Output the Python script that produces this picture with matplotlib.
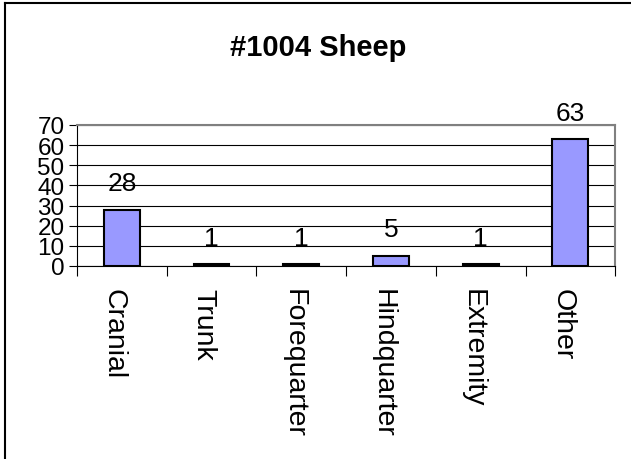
import matplotlib
matplotlib.use('Agg')
import matplotlib.pyplot as plt
import matplotlib.transforms as mtransforms
from matplotlib.lines import Line2D

plt.rcParams['font.family'] = ['Liberation Sans', 'DejaVu Sans']

# data
categories = ['Cranial', 'Trunk', 'Forequarter', 'Hindquarter', 'Extremity', 'Other']
counts = [28, 1, 1, 5, 1, 63]
title = '#1004 Sheep'

fig = plt.figure(figsize=(6.31, 4.60), dpi=100)
ax = fig.add_axes([0.122, 0.4196, 0.853, 0.3065])

x = range(len(categories))
ax.bar(x, counts, width=0.4, color='#9999FF', edgecolor='black', linewidth=1.5, zorder=3)

ax.set_xlim(-0.5, len(categories) - 0.5)
ax.set_ylim(0, 70)
ax.set_yticks(range(0, 71, 10))
ax.yaxis.grid(True, color='black', linewidth=0.8, zorder=0)
ax.tick_params(axis='y', labelsize=17.5, direction='out', length=6, width=0.8, pad=3)

# category ticks sit between the bars, labels under the bars
ax.set_xticks(x)
ax.set_xticks([i + 0.5 for i in range(-1, len(categories))], minor=True)
ax.tick_params(axis='x', which='major', length=0, pad=16)
ax.tick_params(axis='x', which='minor', length=7, width=0.8, direction='out')
ax.set_xticklabels(categories, rotation=-90, fontsize=20.5, ha='center', va='top')
shift = mtransforms.ScaledTranslation(-8 / 100, 0, fig.dpi_scale_trans)
for lbl in ax.get_xticklabels():
    lbl.set_transform(lbl.get_transform() + shift)

for sp in ['top', 'right']:
    ax.spines[sp].set_color('#808080')
    ax.spines[sp].set_linewidth(1.5)
for sp in ['left', 'bottom']:
    ax.spines[sp].set_color('black')
    ax.spines[sp].set_linewidth(0.8)

for xi, v in zip(x, counts):
    ax.annotate(str(v), (xi, v), xytext=(0, 14), textcoords='offset points',
                ha='center', va='baseline', fontsize=19)

fig.text(0.504, 0.895, title, ha='center', va='center', fontsize=21, fontweight='bold')

# chart frame: only left and top edges are visible in the image
fig.add_artist(Line2D([5 / 631, 5 / 631], [0, 1 - 4 / 460], transform=fig.transFigure, color='black', linewidth=1.5))
fig.add_artist(Line2D([5 / 631, 1], [1 - 4 / 460, 1 - 4 / 460], transform=fig.transFigure, color='black', linewidth=1.5))

fig.savefig('out.png', dpi=100)
